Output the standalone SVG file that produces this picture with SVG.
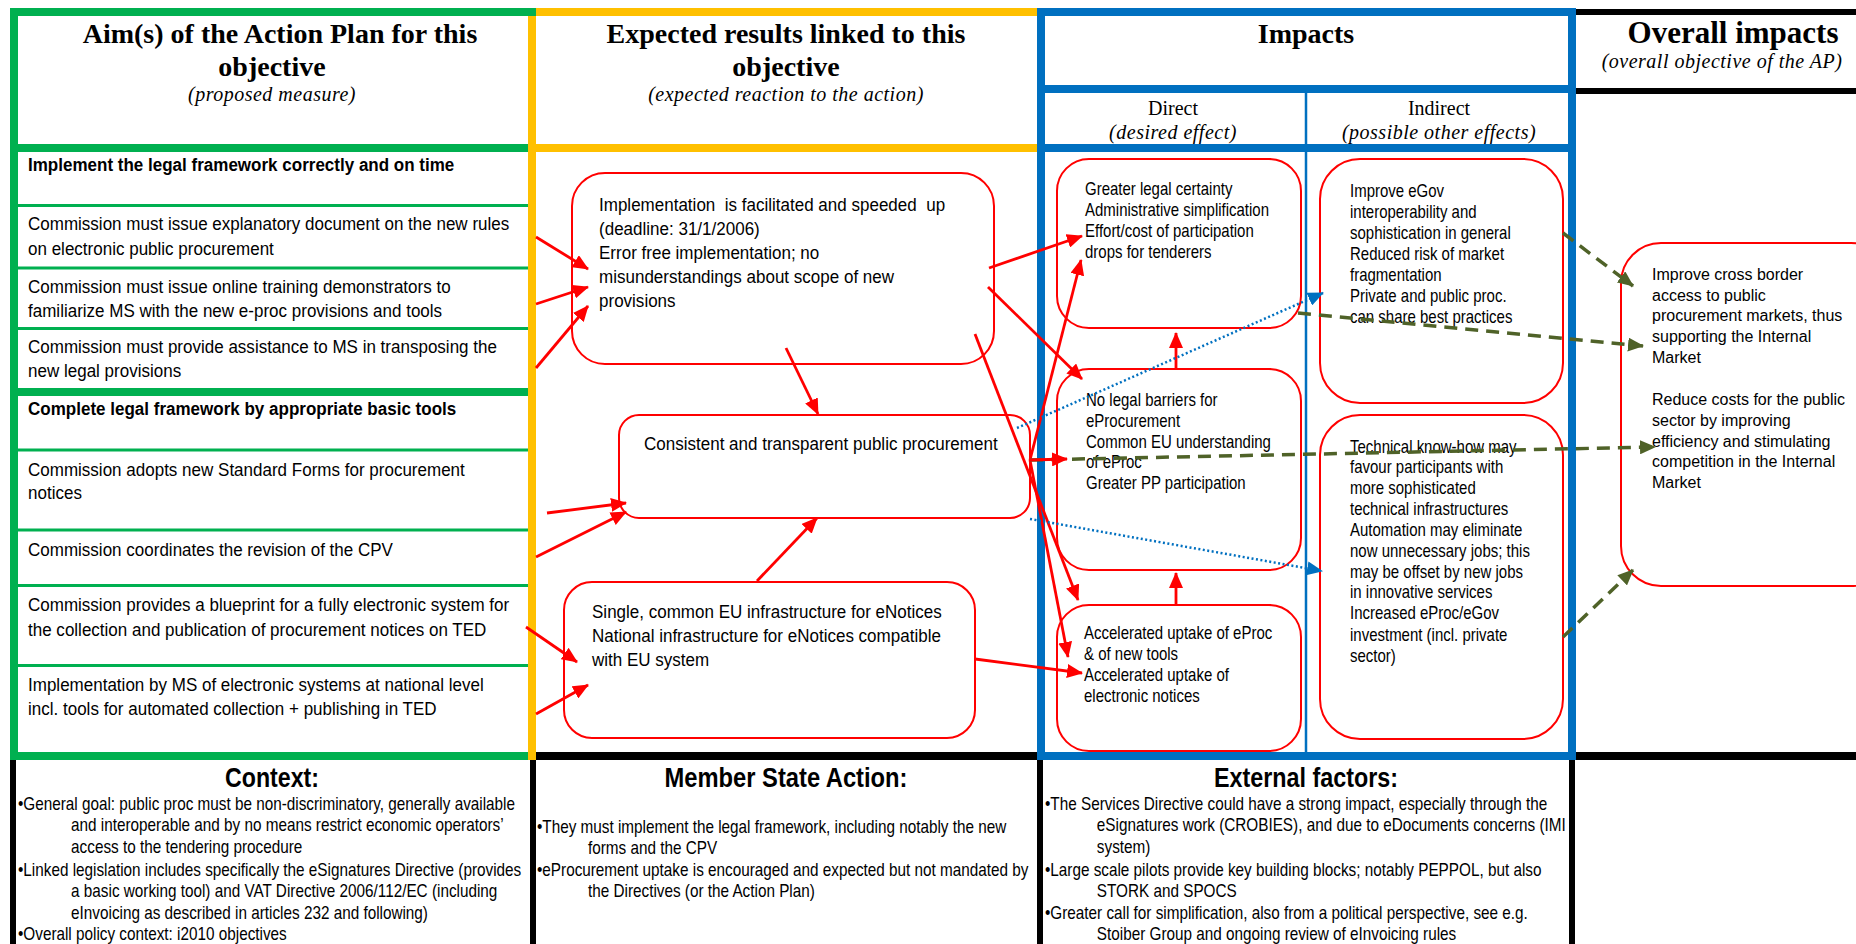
<svg xmlns="http://www.w3.org/2000/svg" width="1856" height="944" viewBox="0 0 1856 944">
<style>
.hd{font-family:"Liberation Serif","Times New Roman",serif;font-weight:bold;font-size:28px;text-anchor:middle;fill:#000}
.it{font-family:"Liberation Serif","Times New Roman",serif;font-style:italic;font-size:20px;letter-spacing:0.5px;text-anchor:middle;fill:#000}
.rg{font-family:"Liberation Serif","Times New Roman",serif;font-size:20px;text-anchor:middle;fill:#000}
.t{font-family:"Liberation Sans",Arial,sans-serif;font-size:18.5px;fill:#000}
.tb{font-family:"Liberation Sans",Arial,sans-serif;font-size:18.5px;font-weight:bold;fill:#000}
.t3{font-family:"Liberation Sans",Arial,sans-serif;font-size:17.5px;fill:#000}
.t4{font-family:"Liberation Sans",Arial,sans-serif;font-size:16px;fill:#000}
.bt{font-family:"Liberation Sans",Arial,sans-serif;font-size:18px;fill:#000}
.btt{font-family:"Liberation Sans",Arial,sans-serif;font-size:27px;font-weight:bold;text-anchor:middle;fill:#000}
.box{fill:#fff;stroke:#ff0000;stroke-width:2}
.red{stroke:#ff0000;stroke-width:2.8;fill:none;marker-end:url(#ar)}
.dot{stroke:#0070C0;stroke-width:2.5;stroke-dasharray:2 2.5;fill:none;marker-end:url(#ab)}
.dash{stroke:#4F6228;stroke-width:3.5;stroke-dasharray:13 8;fill:none;marker-end:url(#ag)}
.g{stroke:#00B050;fill:none}
.y{stroke:#FFC000;fill:none}
.b{stroke:#0070C0;fill:none}
.k{stroke:#000;fill:none}
</style>
<defs>
<marker id="ar" markerUnits="userSpaceOnUse" markerWidth="16" markerHeight="14" refX="15" refY="7" orient="auto"><path d="M0,0 L16,7 L0,14 z" fill="#ff0000"/></marker>
<marker id="ag" markerUnits="userSpaceOnUse" markerWidth="16" markerHeight="14" refX="15" refY="7" orient="auto"><path d="M0,0 L16,7 L0,14 z" fill="#4F6228"/></marker>
<marker id="ab" markerUnits="userSpaceOnUse" markerWidth="16" markerHeight="14" refX="15" refY="7" orient="auto"><path d="M0,0 L16,7 L0,14 z" fill="#0070C0"/></marker>
</defs>
<rect x="0" y="0" width="1856" height="944" fill="#fff"/>

<g id="frames">
  <line class="k" x1="13" y1="756" x2="13" y2="944" stroke-width="6"/>
  <line class="k" x1="533" y1="756" x2="533" y2="944" stroke-width="6"/>
  <line class="k" x1="1040" y1="756" x2="1040" y2="944" stroke-width="6"/>
  <line class="k" x1="1572" y1="756" x2="1572" y2="944" stroke-width="6"/>
  <line class="k" x1="1572" y1="12" x2="1856" y2="12" stroke-width="6"/>
  <line class="k" x1="1572" y1="91" x2="1856" y2="91" stroke-width="6"/>
  <line class="k" x1="1572" y1="756" x2="1856" y2="756" stroke-width="8"/>
  <line class="k" x1="532" y1="756" x2="1040" y2="756" stroke-width="8"/>
  <line class="y" x1="532" y1="12" x2="1040" y2="12" stroke-width="8"/>
  <line class="y" x1="532" y1="148" x2="1040" y2="148" stroke-width="8"/>
  <g class="g">
    <line x1="14" y1="205.5" x2="532" y2="205.5" stroke-width="3"/>
    <line x1="14" y1="268" x2="532" y2="268" stroke-width="3"/>
    <line x1="14" y1="328.5" x2="532" y2="328.5" stroke-width="3"/>
    <line x1="14" y1="450" x2="532" y2="450" stroke-width="3"/>
    <line x1="14" y1="530" x2="532" y2="530" stroke-width="3"/>
    <line x1="14" y1="585.5" x2="532" y2="585.5" stroke-width="3"/>
    <line x1="14" y1="665.5" x2="532" y2="665.5" stroke-width="3"/>
    <line x1="10" y1="148" x2="532" y2="148" stroke-width="8"/>
    <line x1="10" y1="392" x2="532" y2="392" stroke-width="8"/>
    <line x1="10" y1="756" x2="536" y2="756" stroke-width="8"/>
    <line x1="14" y1="8" x2="14" y2="760" stroke-width="8"/>
  </g>
  <line class="y" x1="532" y1="8" x2="532" y2="760" stroke-width="8"/>
  <line class="g" x1="10" y1="12" x2="536" y2="12" stroke-width="8"/>
  <g class="b">
    <line x1="1306" y1="89" x2="1306" y2="756" stroke-width="2.5"/>
    <line x1="1041" y1="89" x2="1572" y2="89" stroke-width="8"/>
    <line x1="1041" y1="148" x2="1572" y2="148" stroke-width="8"/>
    <rect x="1041" y="12" width="531" height="744" stroke-width="8"/>
  </g>
</g>

<g id="headers">
  <g id="h-aims">
    <text class="hd" x="280" y="43">Aim(s) of the Action Plan for this</text>
    <text class="hd" x="272" y="76">objective</text>
    <text class="it" x="272" y="101">(proposed measure)</text>
  </g>
  <g id="h-results">
    <text class="hd" x="786" y="43">Expected results linked to this</text>
    <text class="hd" x="786" y="76">objective</text>
    <text class="it" x="786" y="101">(expected reaction to the action)</text>
  </g>
  <g id="h-impacts">
    <text class="hd" x="1306" y="43">Impacts</text>
    <text class="rg" x="1173" y="115">Direct</text>
    <text class="it" x="1173" y="139">(desired effect)</text>
    <text class="rg" x="1439" y="115">Indirect</text>
    <text class="it" x="1439" y="139">(possible other effects)</text>
  </g>
  <g id="h-overall">
    <text class="hd" x="1733" y="43" style="font-size:31px">Overall impacts</text>
    <text class="it" x="1722" y="68">(overall objective of the AP)</text>
  </g>
</g>

<g id="aims" transform="translate(28,0) scale(0.92,1)">
  <g id="aim-1"><text class="tb" x="0" y="171">Implement the legal framework correctly and on time</text></g>
  <g id="aim-1a"><text class="t" x="0" y="230">Commission must issue explanatory document on the new rules</text><text class="t" x="0" y="255">on electronic public procurement</text></g>
  <g id="aim-1b"><text class="t" x="0" y="293">Commission must issue online training demonstrators to</text><text class="t" x="0" y="317">familiarize MS with the new e-proc provisions and tools</text></g>
  <g id="aim-1c"><text class="t" x="0" y="353">Commission must provide assistance to MS in transposing the</text><text class="t" x="0" y="377">new legal provisions</text></g>
  <g id="aim-2"><text class="tb" x="0" y="415">Complete legal framework by appropriate basic tools</text></g>
  <g id="aim-2a"><text class="t" x="0" y="476">Commission adopts new Standard Forms for procurement</text><text class="t" x="0" y="499">notices</text></g>
  <g id="aim-2b"><text class="t" x="0" y="556">Commission coordinates the revision of the CPV</text></g>
  <g id="aim-2c"><text class="t" x="0" y="611">Commission provides a blueprint for a fully electronic system for</text><text class="t" x="0" y="636">the collection and publication of procurement notices on TED</text></g>
  <g id="aim-2d"><text class="t" x="0" y="691">Implementation by MS of electronic systems at national level</text><text class="t" x="0" y="715">incl. tools for automated collection + publishing in TED</text></g>
</g>

<g id="res-1">
  <rect class="box" x="572" y="173" width="422" height="191" rx="33"/>
  <g transform="translate(599,0) scale(0.92,1)">
    <text class="t" x="0" y="211" style="white-space:pre">Implementation  is facilitated and speeded  up</text>
    <text class="t" x="0" y="235">(deadline: 31/1/2006)</text>
    <text class="t" x="0" y="259">Error free implementation; no</text>
    <text class="t" x="0" y="283">misunderstandings about scope of new</text>
    <text class="t" x="0" y="307">provisions</text>
  </g>
</g>
<g id="res-2">
  <rect class="box" x="619" y="415" width="411" height="103" rx="20"/>
  <g transform="translate(644,0) scale(0.92,1)">
    <text class="t" x="0" y="450">Consistent and transparent public procurement</text>
  </g>
</g>
<g id="res-3">
  <rect class="box" x="564" y="582" width="411" height="156" rx="28"/>
  <g transform="translate(592,0) scale(0.92,1)">
    <text class="t" x="0" y="618">Single, common EU infrastructure for eNotices</text>
    <text class="t" x="0" y="642">National infrastructure for eNotices compatible</text>
    <text class="t" x="0" y="666">with EU system</text>
  </g>
</g>

<g id="direct-1">
  <rect class="box" x="1057" y="159" width="244" height="169" rx="32"/>
  <g transform="translate(1085,0) scale(0.857,1)">
    <text class="t3" x="0" y="195">Greater legal certainty</text>
    <text class="t3" x="0" y="216">Administrative simplification</text>
    <text class="t3" x="0" y="237">Effort/cost of participation</text>
    <text class="t3" x="0" y="258">drops for tenderers</text>
  </g>
</g>
<g id="direct-2">
  <rect class="box" x="1057" y="369" width="244" height="201" rx="32"/>
  <g transform="translate(1086,0) scale(0.857,1)">
    <text class="t3" x="0" y="406">No legal barriers for</text>
    <text class="t3" x="0" y="427">eProcurement</text>
    <text class="t3" x="0" y="448">Common EU understanding</text>
    <text class="t3" x="0" y="468">of eProc</text>
    <text class="t3" x="0" y="489">Greater PP participation</text>
  </g>
</g>
<g id="direct-3">
  <rect class="box" x="1057" y="605" width="244" height="146" rx="32"/>
  <g transform="translate(1084,0) scale(0.857,1)">
    <text class="t3" x="0" y="639">Accelerated uptake of eProc</text>
    <text class="t3" x="0" y="660">&amp; of new tools</text>
    <text class="t3" x="0" y="681">Accelerated uptake of</text>
    <text class="t3" x="0" y="702">electronic notices</text>
  </g>
</g>
<g id="indirect-1">
  <rect class="box" x="1320" y="159" width="243" height="244" rx="40"/>
  <g transform="translate(1350,0) scale(0.857,1)">
    <text class="t3" x="0" y="197">Improve eGov</text>
    <text class="t3" x="0" y="218">interoperability and</text>
    <text class="t3" x="0" y="239">sophistication in general</text>
    <text class="t3" x="0" y="260">Reduced risk of market</text>
    <text class="t3" x="0" y="281">fragmentation</text>
    <text class="t3" x="0" y="302">Private and public proc.</text>
    <text class="t3" x="0" y="323">can share best practices</text>
  </g>
</g>
<g id="indirect-2">
  <rect class="box" x="1320" y="415" width="243" height="324" rx="40"/>
  <g transform="translate(1350,0) scale(0.857,1)">
    <text class="t3" x="0" y="453">Technical know-how may</text>
    <text class="t3" x="0" y="473">favour participants with</text>
    <text class="t3" x="0" y="494">more sophisticated</text>
    <text class="t3" x="0" y="515">technical infrastructures</text>
    <text class="t3" x="0" y="536">Automation may eliminate</text>
    <text class="t3" x="0" y="557">now unnecessary jobs; this</text>
    <text class="t3" x="0" y="578">may be offset by new jobs</text>
    <text class="t3" x="0" y="598">in innovative services</text>
    <text class="t3" x="0" y="619">Increased eProc/eGov</text>
    <text class="t3" x="0" y="641">investment (incl. private</text>
    <text class="t3" x="0" y="662">sector)</text>
  </g>
</g>
<g id="overall">
  <rect class="box" x="1621" y="243" width="270" height="343" rx="40"/>
  <text class="t4" x="1652" y="280">Improve cross border</text>
  <text class="t4" x="1652" y="301">access to public</text>
  <text class="t4" x="1652" y="321">procurement markets, thus</text>
  <text class="t4" x="1652" y="342">supporting the Internal</text>
  <text class="t4" x="1652" y="363">Market</text>
  <text class="t4" x="1652" y="405">Reduce costs for the public</text>
  <text class="t4" x="1652" y="426">sector by improving</text>
  <text class="t4" x="1652" y="447">efficiency and stimulating</text>
  <text class="t4" x="1652" y="467">competition in the Internal</text>
  <text class="t4" x="1652" y="488">Market</text>
</g>

<g id="context">
  <text class="btt" x="272" y="787" textLength="94" lengthAdjust="spacingAndGlyphs">Context:</text>
  <g transform="translate(18,0) scale(0.85,1)">
    <text class="bt" x="0" y="810">•General goal: public proc must be non-discriminatory, generally available</text>
    <text class="bt" x="62.5" y="831">and interoperable and by no means restrict economic operators’</text>
    <text class="bt" x="62.5" y="853">access to the tendering procedure</text>
    <text class="bt" x="0" y="876">•Linked legislation includes specifically the eSignatures Directive (provides</text>
    <text class="bt" x="62.5" y="897">a basic working tool) and VAT Directive 2006/112/EC (including</text>
    <text class="bt" x="62.5" y="919">eInvoicing as described in articles 232 and following)</text>
    <text class="bt" x="0" y="940">•Overall policy context: i2010 objectives</text>
  </g>
</g>
<g id="ms-action">
  <text class="btt" x="786" y="787" textLength="243" lengthAdjust="spacingAndGlyphs">Member State Action:</text>
  <g transform="translate(537,0) scale(0.85,1)">
    <text class="bt" x="0" y="833">•They must implement the legal framework, including notably the new</text>
    <text class="bt" x="60" y="854">forms and the CPV</text>
    <text class="bt" x="0" y="876">•eProcurement uptake is encouraged and expected but not mandated by</text>
    <text class="bt" x="60" y="897">the Directives (or the Action Plan)</text>
  </g>
</g>
<g id="external">
  <text class="btt" x="1306" y="787" textLength="184" lengthAdjust="spacingAndGlyphs">External factors:</text>
  <g transform="translate(1045,0) scale(0.85,1)">
    <text class="bt" x="0" y="810">•The Services Directive could have a strong impact, especially through the</text>
    <text class="bt" x="61" y="831">eSignatures work (CROBIES), and due to eDocuments concerns (IMI</text>
    <text class="bt" x="61" y="853">system)</text>
    <text class="bt" x="0" y="876">•Large scale pilots provide key building blocks; notably PEPPOL, but also</text>
    <text class="bt" x="61" y="897">STORK and SPOCS</text>
    <text class="bt" x="0" y="919">•Greater call for simplification, also from a political perspective, see e.g.</text>
    <text class="bt" x="61" y="940">Stoiber Group and ongoing review of eInvoicing rules</text>
  </g>
</g>

<g id="connectors">
  <line class="red" x1="536" y1="237" x2="588" y2="269"/>
  <line class="red" x1="536" y1="304" x2="588" y2="287"/>
  <line class="red" x1="536" y1="368" x2="588" y2="306"/>
  <line class="red" x1="547" y1="513" x2="626" y2="503"/>
  <line class="red" x1="536" y1="557" x2="626" y2="512"/>
  <line class="red" x1="526" y1="627" x2="577" y2="662"/>
  <line class="red" x1="536" y1="714" x2="588" y2="685"/>
  <line class="red" x1="757" y1="581" x2="817" y2="518"/>
  <line class="red" x1="786" y1="348" x2="818" y2="414"/>
  <line class="red" x1="989" y1="268" x2="1082" y2="236"/>
  <line class="red" x1="988" y1="287" x2="1082" y2="379"/>
  <line class="red" x1="975" y1="334" x2="1078" y2="600"/>
  <line class="red" x1="975" y1="659" x2="1082" y2="673"/>
  <line class="red" x1="1030" y1="460" x2="1081" y2="260"/>
  <line class="red" x1="1030" y1="460" x2="1068" y2="657"/>
  <line class="red" x1="1176" y1="369" x2="1176" y2="333"/>
  <line class="red" x1="1176" y1="605" x2="1176" y2="573"/>
  <line class="dot" x1="1017" y1="428" x2="1323" y2="293"/>
  <line class="dot" x1="1030" y1="519" x2="1322" y2="571"/>
  <line class="dash" x1="1030" y1="460" x2="1655" y2="447"/>
  <line class="red" x1="1030" y1="460" x2="1067" y2="459"/>
  <line class="dash" x1="1298" y1="313" x2="1643" y2="346"/>
  <line class="dash" x1="1563" y1="233" x2="1633" y2="286"/>
  <line class="dash" x1="1563" y1="637" x2="1633" y2="570"/>
</g>
</svg>
